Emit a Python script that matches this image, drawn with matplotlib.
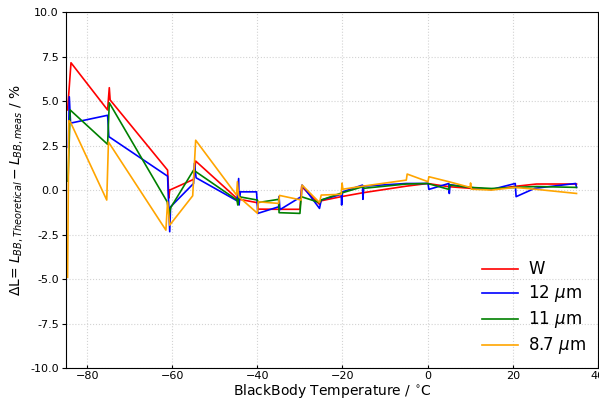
import matplotlib
matplotlib.use("Agg")
import matplotlib.pyplot as plt

# W series
x_w = [-84.6, -83.8, -75.2, -74.8, -74.6, -61.1, -60.8, -60.6, -55.0, -54.5,
       -44.8, -44.6, -40.0, -39.8, -35.0, -34.8, -30.0, -29.6, -25.4, -25.0,
       -20.3, -15.2, -5.0, 0.0, 5.0, 10.0, 15.0, 21.0, 25.6, 35.0]
y_w = [4.5, 7.15, 4.5, 5.75, 5.06, 1.12, -0.45, 0.0, 0.6, 1.63,
       -0.47, -0.5, -0.71, -1.07, -1.08, -1.08, -1.08, 0.2, -0.8, -0.6,
       -0.37, -0.15, 0.22, 0.37, 0.19, 0.1, 0.04, 0.22, 0.34, 0.34]

# 12 um series
x_12 = [-84.4, -84.2, -83.9, -75.2, -74.9, -61.1, -60.6, -60.4, -55.0, -54.8,
        -54.4, -44.8, -44.4, -44.3, -44.0, -40.2, -39.9, -35.0, -34.9, -34.7,
        -29.7, -29.5, -25.4, -25.0, -20.3, -20.2, -20.0, -15.3, -15.2, -15.0,
        -5.0, 0.1, 0.3, 5.0, 5.1, 5.3, 10.0, 15.0, 20.6, 20.8, 25.2, 34.8, 35.0]
y_12 = [2.4, 5.24, 3.76, 4.2, 3.0, 0.78, -2.34, -0.94, 0.37, 1.5,
        0.69, -0.6, 0.65, -0.84, -0.1, -0.1, -1.31, -0.94, -0.37, -1.1,
        -0.37, 0.28, -1.03, -0.56, -0.24, -0.84, -0.1, 0.28, -0.52, 0.22,
        0.37, 0.37, 0.04, 0.37, -0.19, 0.3, 0.15, 0.03, 0.37, -0.37, 0.1, 0.37, 0.15]

# 11 um series
x_11 = [-84.5, -84.0, -75.2, -74.8, -61.2, -60.7, -60.4, -55.0, -44.8, -44.6,
        -44.4, -40.0, -39.8, -35.0, -34.9, -30.0, -29.7, -25.4, -25.0, -20.3,
        -15.2, -15.0, -5.0, 0.0, 5.0, 5.2, 10.0, 15.0, 20.6, 25.6, 35.0]
y_11 = [0.5, 4.5, 2.57, 4.9, -0.66, -1.4, -1.0, 1.12, -0.56, -0.84,
        -0.37, -0.56, -0.7, -0.52, -1.27, -1.31, -0.37, -0.7, -0.56, -0.17,
        0.19, 0.1, 0.34, 0.37, 0.04, 0.28, 0.15, 0.09, 0.15, 0.2, 0.15]

# 8.7 um series
x_87 = [-84.6, -84.3, -83.9, -75.4, -75.0, -61.5, -61.1, -60.6, -55.2, -54.5,
        -44.9, -44.7, -44.4, -40.0, -39.8, -35.0, -34.8, -29.7, -29.5, -25.4,
        -25.0, -20.3, -20.1, -19.9, -15.2, -5.0, -4.8, 0.1, 0.3, 5.0,
        10.0, 10.1, 10.3, 15.0, 20.5, 25.6, 35.0]
y_87 = [-4.9, 3.9, 3.8, -0.56, 2.7, -2.25, -0.66, -1.97, -0.32, 2.8,
        -0.28, 0.47, -0.37, -1.3, -0.66, -0.75, -0.3, -0.56, 0.28, -0.7,
        -0.28, -0.24, 0.39, 0.05, 0.22, 0.56, 0.9, 0.47, 0.75, 0.47,
        0.15, 0.4, 0.05, 0.0, 0.15, 0.04, -0.19]

labels = ["W", "12 $\\mu$m", "11 $\\mu$m", "8.7 $\\mu$m"]
colors = ["red", "blue", "green", "orange"]

fig = plt.figure(figsize=(5.99, 4.01), dpi=100)
ax = fig.add_axes([0.110, 0.082, 0.888, 0.888])

for xs, ys, lab, c in zip([x_w, x_12, x_11, x_87], [y_w, y_12, y_11, y_87], labels, colors):
    ax.plot(xs, ys, color=c, lw=1.2, label=lab)

ax.set_xlim(-85, 40)
ax.set_ylim(-10, 10)
ax.set_xticks([-80, -60, -40, -20, 0, 20, 40])
ax.set_yticks([-10, -7.5, -5, -2.5, 0, 2.5, 5, 7.5, 10])
ax.yaxis.set_major_formatter(matplotlib.ticker.FormatStrFormatter('%.1f'))
ax.grid(True, linestyle=':', color='lightgray', lw=0.8)
ax.tick_params(axis='y', labelsize=8, length=3, pad=2)
ax.tick_params(axis='x', labelsize=8, length=2, direction='in', pad=2)
ax.set_xlabel("BlackBody Temperature / $^{\\circ}$C", fontsize=10, labelpad=1)
ax.set_ylabel("$\\Delta$L= $L_{BB, Theoretical} - L_{BB, meas}$ / %", fontsize=10)
ax.legend(loc="lower right", frameon=False, fontsize=12, handlelength=2.2,
          handletextpad=0.6, labelspacing=0.3, borderaxespad=0.3)

fig.savefig("out.png", dpi=100)
